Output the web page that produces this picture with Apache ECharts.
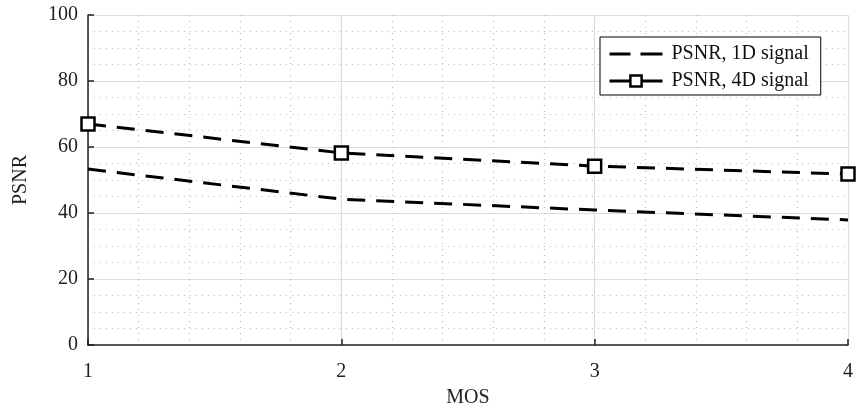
<!DOCTYPE html>
<html>
<head>
<meta charset="utf-8">
<script src="https://cdn.jsdelivr.net/npm/echarts@6/dist/echarts.min.js"></script>
<style>html,body{margin:0;padding:0;background:#fff;}#c{width:857px;height:414px;}</style>
</head>
<body>
<div id="c"></div>
<script>
var mos = [1, 2, 3, 4];
var psnr1D = [53.3, 44.2, 40.9, 37.9];
var psnr4D = [67.0, 58.2, 54.2, 51.8];
var seriesNames = ['PSNR, 1D signal', 'PSNR, 4D signal'];

function pairs(xs, ys) { return xs.map(function (x, i) { return [x, ys[i]]; }); }

var font = 'Liberation Serif';
var dashIcon = 'path://M0,0h0.01v0.01h-0.01z M0,5.5h21v3h-21z M31,5.5h22v3h-22z M52.99,13.99h0.01v0.01h-0.01z';
var chart = echarts.init(document.getElementById('c'));
chart.setOption({
  animation: false,
  backgroundColor: '#fff',
  grid: { left: 88, right: 9, top: 15, bottom: 69 },
  legend: {
    left: 600, top: 37,
    orient: 'vertical',
    itemWidth: 53, itemHeight: 14, itemGap: 7,
    padding: [7, 12, 4, 8],
    borderColor: '#000', borderWidth: 1, backgroundColor: '#fff',
    textStyle: { fontFamily: font, fontSize: 20, color: '#111', padding: [0, 0, 0, 4] },
    data: [
      { name: seriesNames[0], icon: dashIcon, itemStyle: { color: '#000' } },
      { name: seriesNames[1], lineStyle: { width: 3, type: 'solid' }, itemStyle: { borderWidth: 2.5 } }
    ]
  },
  xAxis: {
    type: 'value', min: 1, max: 4, interval: 1,
    name: 'MOS', nameLocation: 'middle', nameGap: 43,
    nameTextStyle: { fontFamily: font, fontSize: 20, color: '#222' },
    axisLine: { show: true, lineStyle: { color: '#222', width: 1.5 } },
    axisTick: { show: true, inside: true, length: 6, lineStyle: { color: '#222', width: 1.5 } },
    axisLabel: { fontFamily: font, fontSize: 20, color: '#222', margin: 17 },
    splitLine: { show: true, lineStyle: { color: '#ddd', width: 1.2 } },
    minorTick: { show: false, splitNumber: 5 },
    minorSplitLine: { show: true, lineStyle: { color: '#bbb', type: [1, 5], width: 1.2 } }
  },
  yAxis: {
    type: 'value', min: 0, max: 100, interval: 20,
    name: 'PSNR', nameLocation: 'middle', nameGap: 57,
    nameTextStyle: { fontFamily: font, fontSize: 20, color: '#222' },
    axisLine: { show: true, lineStyle: { color: '#222', width: 1.5 } },
    axisTick: { show: true, inside: true, length: 6, lineStyle: { color: '#222', width: 1.5 } },
    axisLabel: { fontFamily: font, fontSize: 20, color: '#222', margin: 10 },
    splitLine: { show: true, lineStyle: { color: '#ddd', width: 1.2 } },
    minorTick: { show: false, splitNumber: 4 },
    minorSplitLine: { show: true, lineStyle: { color: '#bbb', type: [1, 5], width: 1.2 } }
  },
  series: [
    {
      name: seriesNames[0], type: 'line', data: pairs(mos, psnr1D),
      symbol: 'none',
      lineStyle: { color: '#000', width: 3, type: [18, 11] },
      itemStyle: { color: '#000' }
    },
    {
      name: seriesNames[1], type: 'line', data: pairs(mos, psnr4D),
      symbol: 'rect', symbolSize: 13, showSymbol: true,
      lineStyle: { color: '#000', width: 3, type: [18, 11] },
      itemStyle: { color: '#fff', borderColor: '#000', borderWidth: 2.5 }
    }
  ]
});
</script>
</body>
</html>
